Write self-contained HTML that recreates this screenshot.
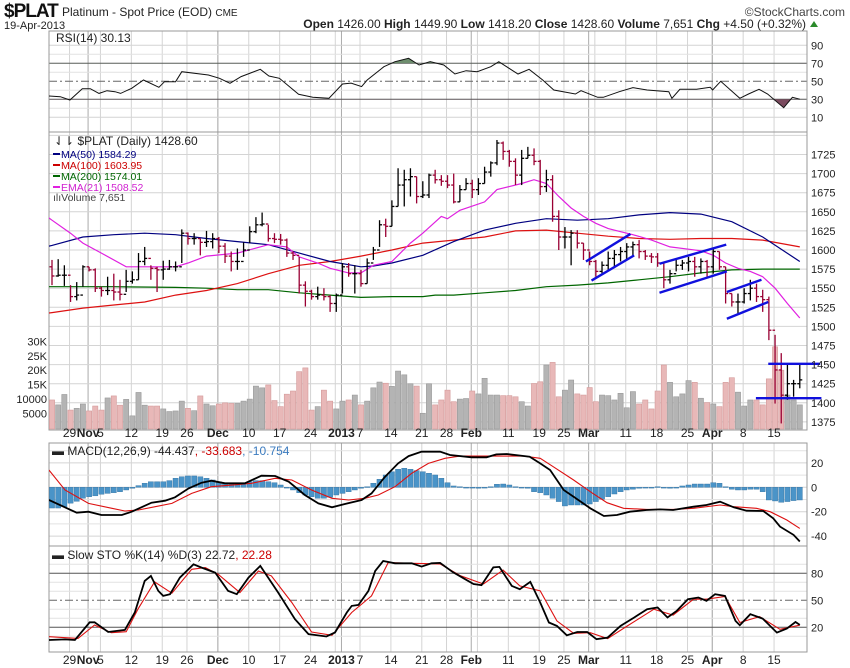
<!DOCTYPE html>
<html><head><meta charset="utf-8"><style>
html,body{margin:0;padding:0;background:#fff;}
svg{display:block;font-family:"Liberation Sans",sans-serif;}
</style></head><body>
<svg id="chart" width="850" height="668" viewBox="0 0 850 668" xmlns="http://www.w3.org/2000/svg">
<defs>
<clipPath id="cRsi"><rect x="49" y="31" width="758" height="101"/></clipPath>
<clipPath id="cMain"><rect x="49" y="132" width="758" height="298"/></clipPath>
<clipPath id="cMacd"><rect x="49" y="443" width="758" height="103"/></clipPath>
<clipPath id="cSto"><rect x="49" y="546" width="758" height="106"/></clipPath>
<clipPath id="cAbove70"><rect x="49" y="31" width="758" height="32.3"/></clipPath>
<clipPath id="cBelow30"><rect x="49" y="99.3" width="758" height="33"/></clipPath>
</defs>
<g id="grid"></g>
<g id="panels">
<rect x="49" y="31" width="758" height="101" fill="none" stroke="#999"/>
<rect x="49" y="132" width="758" height="298" fill="none" stroke="#999"/>
<rect x="49" y="443" width="758" height="103" fill="none" stroke="#999"/>
<rect x="49" y="546" width="758" height="106" fill="none" stroke="#999"/>
</g>
<g id="marks"></g>
<g id="labels" font-size="11" fill="#222">
<text x="4" y="17" font-size="19" font-weight="bold" fill="#111" style="letter-spacing:-1px">$PLAT</text>
<text x="62" y="16" font-size="12">Platinum - Spot Price (EOD) <tspan font-size="10">CME</tspan></text>
<text x="4" y="29" font-size="11">19-Apr-2013</text>
<text x="845" y="16" font-size="12" text-anchor="end" fill="#444">©StockCharts.com</text>
<text x="806" y="28" font-size="12" text-anchor="end"><tspan font-weight="bold">Open</tspan> 1426.00 <tspan font-weight="bold">High</tspan> 1449.90 <tspan font-weight="bold">Low</tspan> 1418.20 <tspan font-weight="bold">Close</tspan> 1428.60 <tspan font-weight="bold">Volume</tspan> 7,651 <tspan font-weight="bold">Chg</tspan> +4.50 (+0.32%)</text>
<polygon points="810,27 818,27 814,21" fill="#2a8a2a"/>
<text x="56" y="42" font-size="12">RSI(14) 30.13</text>
<text x="54" y="145" font-size="12">⇃⇂ $PLAT (Daily) 1428.60</text>
<g font-size="10.5">
<line x1="53" y1="154" x2="60" y2="154" stroke="#000080" stroke-width="2"/><text x="61" y="158" fill="#000080">MA(50) 1584.29</text>
<line x1="53" y1="165" x2="60" y2="165" stroke="#cc0000" stroke-width="2"/><text x="61" y="169" fill="#cc0000">MA(100) 1603.95</text>
<line x1="53" y1="176" x2="60" y2="176" stroke="#006600" stroke-width="2"/><text x="61" y="180" fill="#006600">MA(200) 1574.01</text>
<line x1="53" y1="187" x2="60" y2="187" stroke="#e020e0" stroke-width="2"/><text x="61" y="191" fill="#d020d0">EMA(21) 1508.52</text>
<text x="53" y="201" fill="#444">ılıVolume 7,651</text>
</g>
<text x="52" y="455" font-size="12">▬ MACD(12,26,9) -44.437<tspan fill="#cc0000">, -33.683</tspan><tspan fill="#3b7bbf">, -10.754</tspan></text>
<text x="52" y="559" font-size="12">▬ Slow STO %K(14) %D(3) 22.72<tspan fill="#cc0000">, 22.28</tspan></text>
</g>
<g id="axes" font-size="11" fill="#222"></g>
</svg>
<script>
// ---- data ----
const closes=[1566,1567,1567,1539,1541,1578,1574,1550,1547,1547,1545,1542,1559,1561,1585,1589,1576,1574,1575,1578,1578,1622,1615,1615,1610,1611,1615,1605,1592,1585,1585,1600,1624,1633,1634,1615,1614,1613,1596,1593,1554,1546,1539,1541,1539,1530,1541,1578,1569,1569,1556,1583,1600,1633,1631,1657,1685,1692,1696,1670,1672,1698,1692,1690,1685,1663,1679,1687,1679,1687,1702,1714,1740,1729,1716,1698,1720,1724,1716,1683,1692,1644,1617,1617,1622,1609,1600,1585,1572,1580,1589,1594,1598,1604,1607,1598,1592,1591,1583,1561,1569,1580,1583,1585,1578,1585,1578,1598,1578,1543,1532,1532,1543,1550,1539,1535,1495,1443,1410,1425,1425,1430];
const highs=[1587,1588,1580,1554,1558,1580,1578,1576,1552,1565,1569,1561,1574,1572,1596,1604,1580,1578,1586,1587,1585,1627,1623,1622,1615,1625,1622,1617,1609,1598,1602,1610,1631,1643,1649,1633,1622,1621,1615,1598,1591,1559,1548,1552,1550,1541,1543,1583,1583,1580,1574,1589,1604,1639,1641,1665,1707,1705,1707,1696,1690,1700,1705,1698,1698,1700,1685,1694,1692,1694,1709,1716,1744,1742,1731,1720,1731,1735,1733,1718,1705,1698,1652,1630,1626,1626,1609,1598,1587,1585,1598,1600,1604,1609,1611,1613,1600,1596,1596,1583,1574,1587,1587,1591,1591,1589,1587,1602,1598,1578,1543,1543,1550,1561,1556,1548,1539,1489,1465,1452,1430,1452];
const lows=[1554,1565,1553,1532,1534,1552,1572,1545,1539,1541,1534,1534,1545,1556,1561,1580,1561,1545,1561,1574,1572,1583,1607,1607,1593,1604,1602,1596,1583,1572,1574,1591,1609,1622,1631,1611,1609,1607,1591,1587,1543,1526,1535,1535,1534,1519,1519,1543,1565,1543,1552,1556,1587,1604,1617,1631,1657,1657,1670,1661,1668,1668,1687,1684,1681,1661,1663,1679,1668,1672,1687,1696,1711,1718,1709,1685,1685,1720,1711,1672,1676,1637,1600,1602,1580,1602,1587,1580,1565,1569,1574,1578,1585,1587,1591,1589,1587,1583,1578,1550,1556,1572,1574,1572,1565,1569,1565,1569,1574,1530,1526,1517,1530,1534,1532,1519,1482,1399,1373,1404,1408,1419];
const volumes=[9.7,8.0,11.6,6.2,6.8,8.3,5.9,7.6,6.2,10.4,11.1,7.9,9.9,4.2,12.3,7.9,7.6,7.6,6.6,5.7,5.9,9.3,6.8,6.0,11.1,8.3,7.7,8.3,8.7,8.5,8.5,9.3,10.0,14.5,13.9,14.9,9.5,7.4,11.7,12.8,19.5,20.8,6.2,7.4,13.1,9.3,6.6,9.3,9.7,11.4,8.0,9.3,13.9,15.9,15.5,14.4,19.7,18.4,15.3,14.5,5.1,15.3,8.0,9.7,13.1,9.1,10.0,10.2,12.8,11.8,17.2,11.4,11.4,11.2,11.2,10.8,9.1,7.6,15.4,16.0,21.8,22.7,10.8,13.1,16.6,11.8,11.4,14.0,9.1,11.4,11.2,9.7,12.0,7.0,12.6,8.3,9.7,6.6,12.8,21.8,15.8,10.8,11.8,16.4,15.8,10.3,8.8,8.3,7.4,15.8,17.4,12.4,7.6,9.7,9.7,8.0,17.0,28.1,20.0,11.4,9.7,8.0];
const ma50Idx=[-1,0,5,10,15,20,25,30,35,40,45,50,52,55,60,65,70,75,80,85,90,95,100,105,110,115,121];
const ma50Val=[1604,1606,1617,1620,1622,1620,1615,1611,1607,1596,1585,1578,1579,1583,1593,1611,1626,1635,1641,1639,1641,1646,1649,1647,1637,1617,1585];
const ma100Idx=[-1,0,5,10,15,20,25,30,35,40,45,50,55,60,65,70,75,80,85,90,95,100,105,110,115,121];
const ma100Val=[1517,1518,1524,1528,1532,1541,1547,1556,1569,1580,1585,1592,1600,1609,1613,1617,1625,1626,1622,1618,1615,1614,1615,1615,1613,1604];
const ma200Idx=[-1,0,10,20,25,30,35,40,45,50,55,60,62,65,70,75,80,85,90,95,100,105,110,115,121];
const ma200Val=[1552,1552,1552,1551,1550,1548,1548,1544,1541,1538,1539,1539,1541,1541,1544,1547,1552,1554,1557,1561,1565,1570,1574,1575,1575];
const emaIdx=[-1,0,3,5,8,12,15,20,22,25,30,35,38,40,43,45,48,50,52,55,58,60,63,64,66,70,72,74,76,78,80,82,84,86,88,90,92,94,97,100,103,105,107,109,111,113,115,117,119,121];
const emaVal=[1645,1639,1622,1609,1596,1578,1578,1578,1583,1592,1596,1607,1604,1591,1583,1576,1570,1570,1580,1585,1609,1622,1644,1641,1652,1663,1679,1683,1687,1692,1687,1670,1655,1644,1635,1628,1624,1620,1613,1604,1601,1599,1593,1583,1576,1572,1565,1550,1530,1511];
const rsiIdx=[-0.5,1.35,2.9,4.9,6.2,7.6,8.9,10.2,11.1,12.9,14.8,17.3,18.2,20.0,21.0,25.3,27.1,28.8,30.6,33.7,35.1,36.8,39.9,42.2,44.8,47.0,48.4,50.1,51.0,53.7,55.5,57.7,59.4,61.2,63.4,65.2,67.0,68.8,71.0,72.3,75.4,77.2,79.4,81.2,84.7,85.6,88.3,89.2,91.8,94.0,96.3,99.8,100.3,101.6,104.3,106.5,106.9,108.2,111.3,112.7,114.4,115.8,118.4,119.8,121];
const rsiVal=[33.7,32.9,29.2,41.8,41.8,36.6,39.6,38.5,36.6,42.2,51.4,43.3,49.6,49.6,60.7,57,53.3,47.8,55.2,63.3,55.9,53.3,35.6,32.2,31.1,47,48,44.1,51.4,66.2,71.8,75.5,68.1,71.8,68.1,58.1,61.8,60.7,66.2,71.8,58.1,63.3,51.4,40.3,35.9,39.6,32.2,32.2,38.5,43,40.3,38.5,31.1,41.1,41.1,43.3,40.3,50,31.1,35.9,41.1,35.9,20.7,32.2,30.1];
const macdIdx=[-0.5,4,5.9,8,11.3,12.9,16.1,18.3,19.9,22.1,24.2,25.8,28,31.2,33.9,36.1,38.3,40.9,43.1,45.3,47.4,50.1,51.7,53.9,56,57.7,59.8,62.8,64.4,67.9,70.3,71.9,73.6,77.3,79,80.6,82.8,84.4,87.1,89.3,91.4,93.5,96.2,98.4,100.5,103.8,105.9,108.1,110.3,112.4,115.1,116.7,117.8,120,121];
const macdVal=[-10.4,-20.8,-20,-22.7,-22.7,-20,-12.6,-11,-8.2,-0.9,3.8,5.4,3.3,3.3,9.5,9.3,4.6,-6.3,-13.2,-16.4,-13.7,-10.4,-5,8.7,19.6,25.6,29.2,29.2,26.5,24.6,24.6,27,27.3,25.1,19.6,14.2,-2.2,-7.7,-17.2,-23.5,-22.7,-20,-18.6,-18.1,-18.6,-15.9,-14.5,-11.8,-16.4,-19.2,-19.4,-25.4,-32.2,-39,-44.4];
const sigIdx=[-0.5,2.1,5.9,9.7,11.8,14,16.7,19.4,22.6,25.8,29.1,32.3,36.1,38.8,42,45.3,48,50.6,52.8,55.5,58.2,60.9,63.6,66,70.9,76.3,79,81.1,84.4,87.1,89.8,92.5,96.2,100.5,103.8,108.1,110.3,114,116.2,118.9,121];
const sigVal=[14.2,-2.2,-13.2,-17.2,-19.4,-18.6,-15.9,-13.2,-5,0.5,1.8,3.3,7.4,6,-2.2,-9,-10.4,-9,-6.3,0.5,11.5,19.6,23.8,25.6,25.6,25.6,23.8,16.9,6,-3.6,-12.6,-17.2,-18.1,-18.1,-17.2,-14.5,-15.9,-17.2,-20,-26.8,-33.7];
const histVal=[-17,-17,-16,-13,-11.5,-9,-7.7,-7,-5.7,-5,-4.4,-3.6,-2.2,-0.8,1.4,3.3,4.6,4.6,4.6,5.5,7.4,8.7,9.3,9.3,8.7,7.4,6,4.6,3.8,3.3,2.5,3.3,4.6,5.5,5.5,4.6,3.8,1.9,0,-2.2,-4.4,-6.3,-7.7,-9,-9,-8.2,-6.3,-5,-3.6,-2.2,-0.8,0.5,3.3,6.6,10.1,12.8,14.8,15.6,14.8,13.7,12.8,11.5,10.1,7.4,3.8,1.1,0.5,0,-0.3,-0.8,-0.3,0.5,2.5,2.7,1.9,0.5,0,-0.8,-3.6,-4.4,-6.3,-9,-11.7,-15.3,-14.5,-14.5,-14.5,-13.7,-11.7,-9.8,-7.7,-5.5,-3.6,-2.2,-1.6,-0.8,-0.3,0,0.5,-0.3,-0.8,0,1.1,1.9,2.7,2.7,2.7,3.8,3.3,0.5,-1.6,-2.2,-2.2,-1.6,-1.6,-3.6,-10.4,-11.2,-12.3,-11.7,-10.9,-10.4];
const kIdx=[-0.5,2.1,3.7,6.1,6.9,9.1,11.8,13.4,15,16,17.2,18,19.1,20.7,22.9,24.2,26.4,28.5,29.9,31.8,33.7,36.6,39.3,41.5,44.4,45.8,47.7,48.5,49.6,51.2,52.3,53.6,55.5,58.2,59.8,61.4,62.8,64.9,66.6,68.2,69.5,71.4,72.4,74.4,75.7,77.4,79,80.4,81.7,83.3,85,86.6,88.1,89.9,92,94.2,96.3,98,99.6,101.1,102.9,104.6,105.9,107.3,108.9,110.6,111.3,113,115,117.3,118.9,120.3,121];
const kVal=[5.9,6.6,5.9,25.6,25.6,14.8,17.1,36.4,71.5,77.1,60.4,54.9,56.8,75.2,90,86.3,80.8,60.4,56.8,75.2,88.2,58.6,29.1,12.4,9.8,14.2,36.4,43.8,44.9,60.4,82.6,93.7,91.1,91.1,87.4,91.1,91.5,81.1,74.4,68.1,66.9,86.5,87.1,66,62.3,70.4,47.5,25.3,21.6,11.1,14.8,14.8,6.8,8.6,21.6,30.9,40.1,42,30.9,38.3,51.2,53.1,49.4,56.8,54.9,27.1,22.3,34.6,29.7,14.1,18.5,25.9,22.7];
const dIdx=[-0.5,4.2,6.9,9.6,12,13.9,16.6,19.4,22.6,24.8,26.9,30.4,33.4,35.5,38.8,42,45.3,48.5,51.7,54.4,58.2,62.8,66,69.8,73,75.7,79,81.7,84.4,87.1,89.9,93.1,97.4,100.5,103.8,105.9,108.9,111.3,114.5,117.8,121];
const dVal=[9.6,7.7,22.5,14,15.1,40.1,70.4,57.9,84.5,86.3,78.9,58.6,82.6,77.1,47.5,14.8,11.1,36.4,54.9,91.9,91.1,90.4,77.5,68.1,83.5,66,60.4,27.1,13.3,14,7.4,21.6,40.1,33.5,51.2,51.2,54.2,25.3,31.9,17.8,22.3];
const trendStartIdx=[86.4,87.3,98.3,98.3,109.2,109.2,115.9,113.9];
const trendStartVal=[1585,1560,1582,1544,1545,1510,1451,1406];
const trendEndIdx=[93.6,94.2,109.1,109.2,114.8,115.9,124.3,124.5];
const trendEndVal=[1621,1593,1607,1572,1561,1532,1451,1406];
const dateTickIdx=[3,6,8,13,18,22,27,32,37,42,47,50,55,60,64,68,74,79,83,87,93,98,103,107,112,117];
const dateTickLabels=["29","Nov","5","12","19","26","Dec","10","17","24","2013","7","14","21","28","Feb","11","19","25","Mar","11","18","25","Apr","8","15"];
const dateTickBold=[0,1,0,0,0,0,1,0,0,0,1,0,0,0,0,1,0,0,0,1,0,0,0,1,0,0];
const weekGridIdx=[3,8,13,18,22,27,32,37,42,46,50,55,60,64,69,74,79,83,88,93,98,103,107,112,117];
const priceTicks=[1375,1400,1425,1450,1475,1500,1525,1550,1575,1600,1625,1650,1675,1700,1725];
const volTicks=[5,10,15,20,25,30];
const volTickLabels=["5000","10000","15K","20K","25K","30K"];
const rsiTicks=[10,30,50,70,90];
const macdTicks=[20,0,-20,-40];
const stoTicks=[20,50,80];

// ---- scales ----
const X=i=>52+i*6.18;
const yRsi=v=>63.3+(70-v)*0.9;
const yP=p=>154.5+(1725-p)*0.764;
const yV=v=>428-v*2.89;
const yM=v=>487.3-v*1.22;
const yS=v=>573.3+(80-v)*0.9;
const NS="http://www.w3.org/2000/svg";
function mk(tag,attrs,parent){const e=document.createElementNS(NS,tag);for(const k in attrs)e.setAttribute(k,attrs[k]);parent.appendChild(e);return e;}
const grid=document.getElementById('grid');
const marks=document.getElementById('marks');
const axes=document.getElementById('axes');

// vertical grid
const panelsY=[[31,132],[132,430],[443,546],[546,652]];
weekGridIdx.forEach(i=>{panelsY.forEach(p=>{const l=mk('line',{x1:X(i)-1,x2:X(i)-1,y1:p[0],y2:p[1],stroke:'#d4d4d4'},grid);

});});
dateTickIdx.forEach((i,k)=>{if(dateTickBold[k]){panelsY.forEach(p=>{const l=mk('line',{x1:X(i)-1,x2:X(i)-1,y1:p[0],y2:p[1],stroke:'#aaa'},grid);

});}});
// horizontal grid
priceTicks.forEach(p=>{const l=mk('line',{x1:49,x2:807,y1:yP(p),y2:yP(p),stroke:'#d4d4d4'},grid);


const t=mk('text',{x:811,y:yP(p)+4},axes);t.textContent=p;

});
[1750].forEach(p=>{mk('line',{x1:49,x2:807,y1:yP(p),y2:yP(p),stroke:'#d4d4d4'},grid);});
volTicks.forEach((v,k)=>{const t=mk('text',{x:47,y:yV(v)+4,'text-anchor':'end'},axes);t.textContent=volTickLabels[k];

});
[20,40,60,80].forEach(v=>{mk('line',{x1:49,x2:807,y1:yRsi(v),y2:yRsi(v),stroke:'#e2e2e2'},grid);});
rsiTicks.forEach(v=>{const t=mk('text',{x:811,y:yRsi(v)+4},axes);t.textContent=v;


if(v===70||v===30){mk('line',{x1:49,x2:807,y1:yRsi(v),y2:yRsi(v),stroke:'#555'},grid);}
else if(v===50){mk('line',{x1:49,x2:807,y1:yRsi(v),y2:yRsi(v),stroke:'#666','stroke-dasharray':'8,3,2,3'},grid);}
else{mk('line',{x1:49,x2:807,y1:yRsi(v),y2:yRsi(v),stroke:'#d4d4d4'},grid);}});
[30,10,-10,-30].forEach(v=>{mk('line',{x1:49,x2:807,y1:yM(v),y2:yM(v),stroke:'#e2e2e2'},grid);});
macdTicks.forEach(v=>{mk('line',{x1:49,x2:807,y1:yM(v),y2:yM(v),stroke:'#d4d4d4'},grid);
const t=mk('text',{x:811,y:yM(v)+4},axes);t.textContent=v;

});
[10,30,40,60,70,90].forEach(v=>{mk('line',{x1:49,x2:807,y1:yS(v),y2:yS(v),stroke:'#e2e2e2'},grid);});
stoTicks.forEach(v=>{mk('line',{x1:49,x2:807,y1:yS(v),y2:yS(v),stroke:v===50?'#666':'#555','stroke-dasharray':v===50?'8,3,2,3':'none'},grid);
const t=mk('text',{x:811,y:yS(v)+4},axes);t.textContent=v;

});
// date labels
[437,664].forEach(yy=>{dateTickIdx.forEach((i,k)=>{const t=mk('text',{x:X(i)-1,y:yy,'text-anchor':'middle','font-weight':dateTickBold[k]?'bold':'normal','font-size':'12'},axes);t.textContent=dateTickLabels[k];

});});

function pts(idx,val,fy){return idx.map((i,k)=>X(i).toFixed(1)+','+fy(val[k]).toFixed(1)).join(' ');}
// RSI
const gR=mk('g',{'clip-path':'url(#cRsi)'},marks);
const rp=pts(rsiIdx,rsiVal,yRsi);
const a70=mk('polygon',{points:X(rsiIdx[0])+','+yRsi(70)+' '+rp+' '+X(rsiIdx[rsiIdx.length-1])+','+yRsi(70),fill:'#6e8e6e','clip-path':'url(#cAbove70)'},gR);


const b30=mk('polygon',{points:X(rsiIdx[0])+','+yRsi(30)+' '+rp+' '+X(rsiIdx[rsiIdx.length-1])+','+yRsi(30),fill:'#7a4a5e','clip-path':'url(#cBelow30)'},gR);


const rl=mk('polyline',{points:rp,fill:'none',stroke:'#111','stroke-width':1},gR);



// main
const gM=mk('g',{'clip-path':'url(#cMain)'},marks);
volumes.forEach((v,i)=>{const up=i===0?false:closes[i]>=closes[i-1];
const r=mk('rect',{x:X(i)-2.6,y:yV(v),width:5.2,height:428-yV(v)+1,fill:up?'#b4b4b4':'#e8b8b8',stroke:up?'#999':'#d49a9a','stroke-width':0.6},gM);

});
const lines=[[ma200Idx,ma200Val,'#006600','ma200-line'],[ma100Idx,ma100Val,'#dd1111','ma100-line'],[ma50Idx,ma50Val,'#000080','ma50-line'],[emaIdx,emaVal,'#e020e0','ema21-line']];
lines.forEach(L=>{const p=mk('polyline',{points:pts(L[0],L[1],yP),fill:'none',stroke:L[2],'stroke-width':1.2},gM);

});
closes.forEach((c,i)=>{const up=i===0?false:c>=closes[i-1];const col=up?'#000':'#990033';const o=i===0?1578:closes[i-1];
const g=mk('g',{stroke:col,'stroke-width':1.3},gM);


mk('line',{x1:X(i),x2:X(i),y1:yP(highs[i]),y2:yP(lows[i])},g);
mk('line',{x1:X(i)-2.5,x2:X(i),y1:yP(o),y2:yP(o)},g);
mk('line',{x1:X(i),x2:X(i)+2.5,y1:yP(c),y2:yP(c)},g);});
trendStartIdx.forEach((s,k)=>{const l=mk('line',{x1:X(s),y1:yP(trendStartVal[k]),x2:X(trendEndIdx[k]),y2:yP(trendEndVal[k]),stroke:'#1010dd','stroke-width':2.4},marks);

});

// MACD
const gD=mk('g',{'clip-path':'url(#cMacd)'},marks);
histVal.forEach((v,i)=>{const y0=yM(0),y1=yM(v);
const r=mk('rect',{x:X(i)-2.6,y:Math.min(y0,y1),width:5.2,height:Math.max(0.8,Math.abs(y1-y0)),fill:'#4a94c8',stroke:'#2f6f9f','stroke-width':0.4},gD);

});
const sl=mk('polyline',{points:pts(sigIdx,sigVal,yM),fill:'none',stroke:'#dd1111','stroke-width':1.1},gD);


const ml=mk('polyline',{points:pts(macdIdx,macdVal,yM),fill:'none',stroke:'#000','stroke-width':1.8},gD);



// STO
const gS=mk('g',{'clip-path':'url(#cSto)'},marks);
const dl=mk('polyline',{points:pts(dIdx,dVal,yS),fill:'none',stroke:'#dd1111','stroke-width':1.1},gS);


const kl=mk('polyline',{points:pts(kIdx,kVal,yS),fill:'none',stroke:'#000','stroke-width':1.8},gS);


</script>
</body></html>
